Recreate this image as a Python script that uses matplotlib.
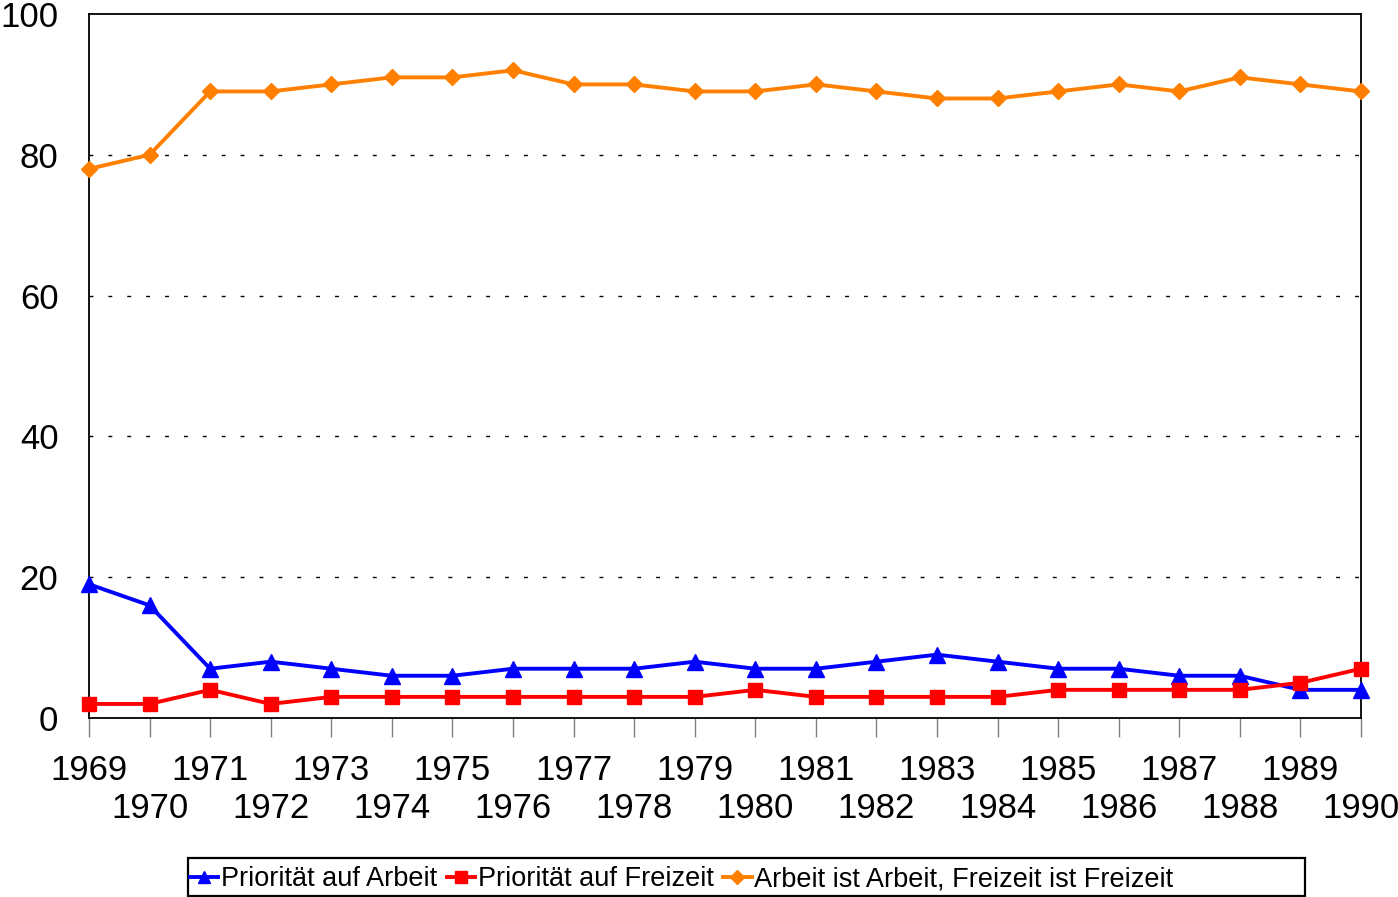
import numpy as np
import matplotlib.pyplot as plt
from matplotlib.patches import Rectangle

plt.rcParams['font.family'] = ['Liberation Sans', 'DejaVu Sans']

years = list(range(1969, 1991))
arbeit = [19, 16, 7, 8, 7, 6, 6, 7, 7, 7, 8, 7, 7, 8, 9, 8, 7, 7, 6, 6, 4, 4]
freizeit = [2, 2, 4, 2, 3, 3, 3, 3, 3, 3, 3, 4, 3, 3, 3, 3, 4, 4, 4, 4, 5, 7]
beides = [78, 80, 89, 89, 90, 91, 91, 92, 90, 90, 89, 89, 90, 89, 88, 88, 89, 90, 89, 91, 90, 89]
labels = ['Priorität auf Arbeit', 'Priorität auf Freizeit',
          'Arbeit ist Arbeit, Freizeit ist Freizeit']

fig = plt.figure(figsize=(13.98, 8.97), dpi=100)
ax = fig.add_axes([89/1398, 1 - 718/897, (1361 - 89)/1398, (718 - 14)/897])

ax.plot(years, arbeit, color='#0000FF', lw=2.8, marker='^', ms=11,
        clip_on=False, zorder=3, label=labels[0])
ax.plot(years, freizeit, color='#FF0000', lw=2.8, marker='s', ms=10,
        clip_on=False, zorder=3, label=labels[1])
ax.plot(years, beides, color='#FF8000', lw=2.8, marker='D', ms=8.5,
        clip_on=False, zorder=3, label=labels[2])

ax.set_xlim(1969, 1990)
ax.set_ylim(0, 100)
ax.set_yticks(range(0, 101, 20))
for v in range(20, 100, 20):
    ax.axhline(v, color='black', lw=1, ls=(0, (2.8, 10.8)), zorder=1)

# odd years on the first row, even years on the second
odd = [y for y in years if y % 2 == 1]
even = [y for y in years if y % 2 == 0]
ax.set_xticks(odd)
ax.set_xticklabels([str(y) for y in odd])
ax.set_xticks(even, minor=True)
ax.set_xticklabels([str(y) for y in even], minor=True)
ax.tick_params(axis='x', which='major', length=14, width=1, color='#808080',
               pad=12, labelsize=25)
ax.tick_params(axis='x', which='minor', length=14, width=1, color='#808080',
               pad=39.5, labelsize=25)
ax.tick_params(axis='y', length=0, pad=22, labelsize=25)
for s in ax.spines.values():
    s.set_linewidth(1.3)
    s.set_color('black')

leg = fig.legend(loc='center left', bbox_to_anchor=(190/1398, 1 - 879/897),
                 ncol=3, fontsize=19.5, frameon=False,
                 handlelength=1.05, handletextpad=0.1, columnspacing=0.35,
                 borderpad=0.0, borderaxespad=0.0, markerscale=0.8)
fig.patches.append(Rectangle((188/1398, 1 - 896/897), (1305 - 188)/1398,
                             (896 - 858)/897, transform=fig.transFigure,
                             fill=False, edgecolor='black', lw=1.6))

fig.savefig('out.png', dpi=100)
